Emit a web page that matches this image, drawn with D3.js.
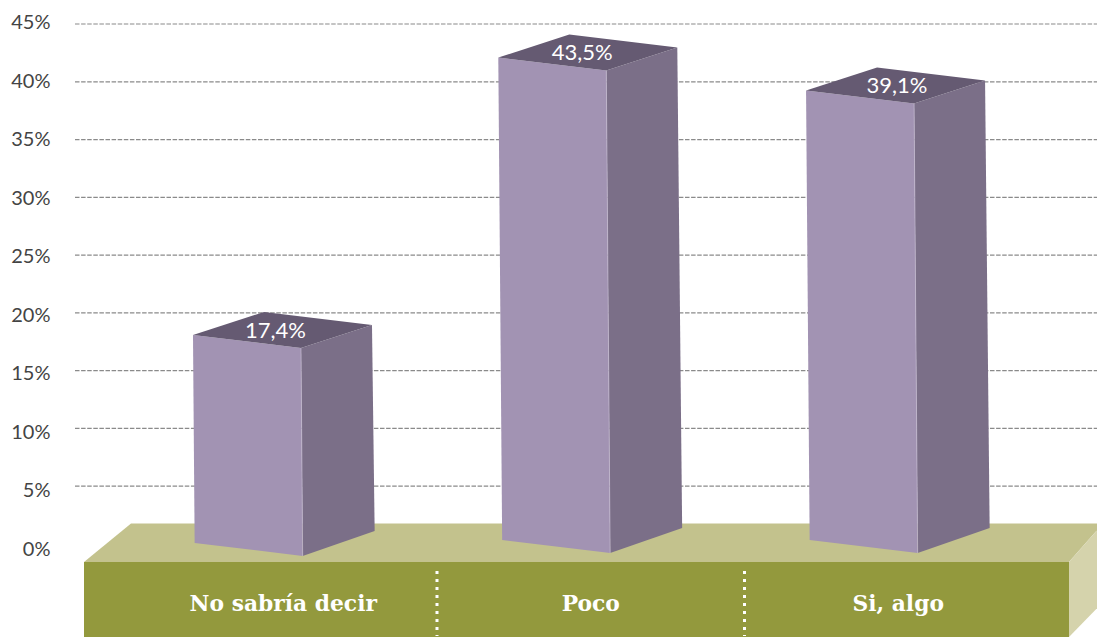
<!DOCTYPE html>
<html><head><meta charset="utf-8">
<script src="https://cdnjs.cloudflare.com/ajax/libs/d3/7.8.5/d3.min.js"></script>
<style>html,body{margin:0;padding:0;background:#fff;overflow:hidden}svg{display:block}</style>
</head><body><svg id="c" width="1097" height="637"></svg>
<script>
const categories = ["No sabría decir", "Poco", "Si, algo"];
const valueLabels = ["17,4%", "43,5%", "39,1%"];
// height of each drawn bar's front-left edge, read against the axis
const drawnTops = [18.05, 42.05, 39.2];
const drawnBases = [0.05, 0.3, 0.3];
const tickValues = [0, 5, 10, 15, 20, 25, 30, 35, 40, 45];

const W = 1097, H = 637;
const svg = d3.select("#c");
const y = d3.scaleLinear().domain([0, 45]).range([543.5, 23.5]);
const yLabel = d3.scaleLinear().domain([0, 45]).range([549, 22]);
const x = d3.scaleBand().domain(categories).range([129.5, 1052]).padding(0);

// gridlines (axis)
const gridG = svg.append("g").attr("transform", "translate(75,0)")
  .call(d3.axisRight(y).tickValues(tickValues.filter(d => d > 0)).tickSize(W - 75).tickFormat(""));
gridG.select(".domain").remove();
gridG.selectAll("line").attr("stroke", "#8a8a8a").attr("stroke-width", 1.2).attr("stroke-dasharray", "4.5 1.6");

// tick labels
svg.append("g").selectAll("text").data(tickValues).join("text")
  .attr("x", 50.5).attr("y", d => yLabel(d)).attr("dy", "0.35em")
  .attr("text-anchor", "end").attr("font-family", "Lato, 'Open Sans', sans-serif")
  .attr("font-size", 20).attr("fill", "#444").text(d => d + "%");

// platform
const pf = {l: 84, r: 1069, top: 562, bottom: H, backY: y(0) - 20, dx: 47, sideDx: 34};
const poly = p => p.map(q => q.join(",")).join(" ");
svg.append("polygon").attr("fill", "#c3c28d").attr("points", poly([
  [pf.l, pf.top], [pf.l + pf.dx, pf.backY], [pf.r + pf.sideDx, pf.backY], [pf.r, pf.top]]));
svg.append("polygon").attr("fill", "#d5d3ac").attr("points", poly([
  [pf.r, pf.top], [pf.r + pf.sideDx, pf.backY], [pf.r + pf.sideDx, pf.bottom - 35], [pf.r, pf.bottom]]));
svg.append("rect").attr("x", pf.l).attr("y", pf.top).attr("width", pf.r - pf.l).attr("height", pf.bottom - pf.top).attr("fill", "#93993d");

// bars
const frontW = 108, skewY = 13, depthX = 71, depthY = -23, lean = 0.008;
const rows = categories.map((c, i) => ({c, label: valueLabels[i], top: drawnTops[i], base: drawnBases[i]}));
const bars = svg.append("g").selectAll("g").data(rows).join("g");
const geo = d => {
  const yt = y(d.top), yb = y(d.base);
  const xb = x(d.c) + x.bandwidth() / 2 - 88.6;
  const xt = xb - (yb - yt) * lean;
  return {xb, xt, yt, yb};
};
bars.append("polygon").attr("fill", "#7b6f88").attr("points", d => {
  const g = geo(d);
  return poly([[g.xt + frontW, g.yt + skewY], [g.xt + frontW + depthX, g.yt + skewY + depthY],
    [g.xb + frontW + depthX + 1, g.yb + skewY + depthY - 2], [g.xb + frontW, g.yb + skewY]]);
});
bars.append("polygon").attr("fill", "#a293b3").attr("points", d => {
  const g = geo(d);
  return poly([[g.xt, g.yt], [g.xt + frontW, g.yt + skewY], [g.xb + frontW, g.yb + skewY], [g.xb, g.yb]]);
});
bars.append("polygon").attr("fill", "#655a72").attr("points", d => {
  const g = geo(d);
  return poly([[g.xt, g.yt], [g.xt + frontW, g.yt + skewY], [g.xt + frontW + depthX, g.yt + skewY + depthY], [g.xt + depthX, g.yt + depthY]]);
});
bars.append("line").attr("stroke", "#c4bad0").attr("stroke-width", 0.7)
  .attr("x1", d => geo(d).xt + frontW).attr("y1", d => geo(d).yt + skewY)
  .attr("x2", d => geo(d).xb + frontW).attr("y2", d => geo(d).yb + skewY);
// value labels: the last one sits further right on its top face in the reference
bars.append("text").text(d => d.label)
  .attr("x", (d, i) => geo(d).xt + (i === 2 ? 91 : i === 1 ? 84 : 82.5)).attr("y", d => geo(d).yt - 5).attr("dy", "0.35em")
  .attr("text-anchor", "middle").attr("fill", "#fff")
  .attr("font-family", "Lato, 'Open Sans', sans-serif").attr("font-size", 22);

// category labels
svg.append("g").selectAll("text").data(categories).join("text")
  .attr("x", d => x(d) + x.bandwidth() / 2).attr("y", 611)
  .attr("text-anchor", "middle").attr("fill", "#fff")
  .attr("font-family", "'DejaVu Serif', serif").attr("font-weight", "bold").attr("font-size", 21.8)
  .text(d => d);

// dividers between categories
svg.append("g").selectAll("line").data(categories.slice(1)).join("line")
  .attr("x1", d => x(d)).attr("x2", d => x(d)).attr("y1", 571).attr("y2", 636)
  .attr("stroke", "#fff").attr("stroke-width", 3).attr("stroke-dasharray", "3 5");
</script></body></html>
